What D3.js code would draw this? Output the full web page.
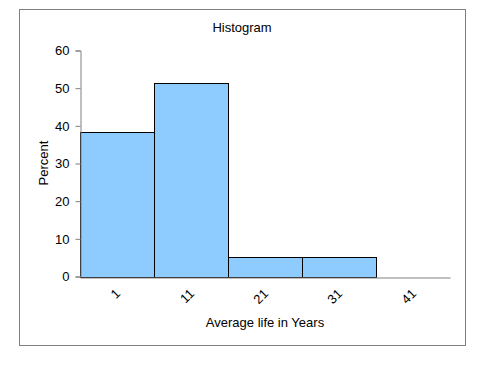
<!DOCTYPE html>
<html>
<head>
<meta charset="utf-8">
<script src="https://cdn.jsdelivr.net/npm/d3@7"></script>
<style>
  body { margin: 0; background: #fff; }
  text { font-family: "Liberation Sans", Arial, sans-serif; fill: #000; }
</style>
</head>
<body>
<div id="container"></div>
<script>
// histogram data
const bins = ["1", "11", "21", "31", "41"]
const percent = [38.46, 51.28, 5.13, 5.13, 0]
const yTicks = [0, 10, 20, 30, 40, 50, 60]

const width = 498, height = 367
const plot = { left: 80, right: 450, top: 50.5, bottom: 276.5 }

const svg = d3.select("#container").append("svg")
  .attr("width", width)
  .attr("height", height)

// outer chart frame
svg.append("rect")
  .attr("x", 19.5).attr("y", 9.5)
  .attr("width", 446).attr("height", 336)
  .attr("fill", "none")
  .attr("stroke", "#808080")

const x = d3.scaleBand()
  .domain(bins)
  .range([plot.left, plot.right])
  .padding(0)

const y = d3.scaleLinear()
  .domain([0, 60])
  .range([plot.bottom, plot.top])

// bars
svg.selectAll("rect.bar")
  .data(bins.map((b, i) => ({ bin: b, value: percent[i] })).filter(d => d.value > 0))
  .enter()
  .append("rect")
    .attr("class", "bar")
    .attr("x", d => Math.round(x(d.bin)) + 0.5)
    .attr("y", d => Math.round(y(d.value)) + 0.5)
    .attr("width", x.bandwidth())
    .attr("height", d => Math.round(y(0)) - Math.round(y(d.value)))
    .attr("fill", "#8ecbff")
    .attr("stroke", "#000")
    .attr("stroke-width", 1)

// y axis
const yAxis = svg.append("g")
  .attr("transform", `translate(${plot.left + 0.5},0)`)
  .call(d3.axisLeft(y).tickValues(yTicks).tickSize(5).tickPadding(6))
yAxis.select(".domain").attr("stroke", "#808080")
yAxis.selectAll(".tick line").attr("stroke", "#808080")
yAxis.selectAll(".tick text")
  .attr("font-size", 13)
  .attr("font-family", "Liberation Sans, Arial, sans-serif")

// x axis
const xAxis = svg.append("g")
  .attr("transform", `translate(0,${Math.round(y(0)) + 0.5})`)
  .call(d3.axisBottom(x).tickSize(0).tickPadding(0))
xAxis.select(".domain").attr("stroke", "#808080")
xAxis.selectAll(".tick text")
  .attr("font-size", 13)
  .attr("font-family", "Liberation Sans, Arial, sans-serif")
  .attr("text-anchor", "end")
  .attr("dy", 0)
  .attr("transform", "translate(4,17) rotate(-45)")

// titles
svg.append("text")
  .attr("x", 242).attr("y", 32)
  .attr("text-anchor", "middle")
  .attr("font-size", 13)
  .text("Histogram")

svg.append("text")
  .attr("transform", "translate(48,163) rotate(-90)")
  .attr("text-anchor", "middle")
  .attr("font-size", 13)
  .text("Percent")

svg.append("text")
  .attr("x", 265).attr("y", 327)
  .attr("text-anchor", "middle")
  .attr("font-size", 13)
  .text("Average life in Years")
</script>
</body>
</html>
